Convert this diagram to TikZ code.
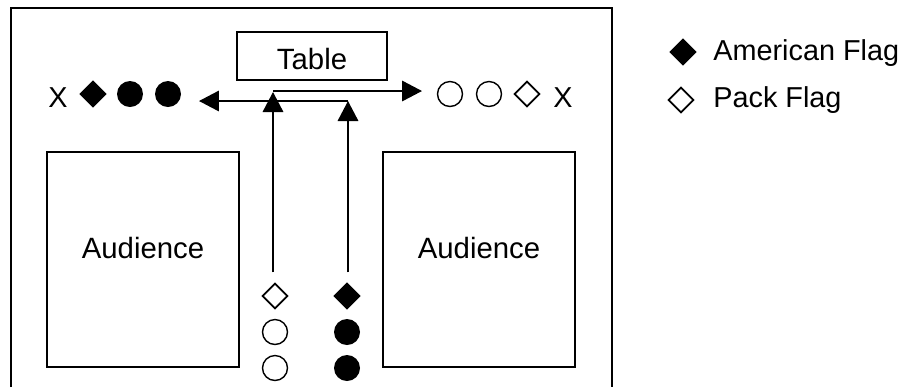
\documentclass[tikz,border=0pt]{standalone}
\usepackage{fontspec}
\setmainfont{Liberation Sans}
\usetikzlibrary{arrows.meta,shapes.geometric}
\tikzset{
  flagline/.style={line width=1pt,-{Triangle[length=0.4cm,width=0.41cm]}},
  room/.style={draw,line width=1pt,inner sep=0pt,align=center,font=\fontsize{16.7}{20}\selectfont},
  txt/.style={inner sep=0pt,anchor=base west,font=\fontsize{16.4}{20}\selectfont},
  usdia/.style={diamond,fill=black,draw=black,line width=0.5pt,inner sep=0pt,minimum width=0.53cm,minimum height=0.53cm},
  packdia/.style={diamond,draw=black,line width=1pt,inner sep=0pt,minimum width=0.51cm,minimum height=0.51cm},
  usball/.style={circle,fill=black,inner sep=0pt,minimum size=0.52cm},
  packball/.style={circle,draw=black,line width=0.8pt,inner sep=0pt,minimum size=0.5cm}
}
\begin{document}
\begin{tikzpicture}[x=0.02cm,y=-0.02cm]
\useasboundingbox (0,0) rectangle (905,387);
\draw [line width=1pt] (11,387) -- (11,8) -- (612,8) -- (612,387); % room outline

\node [room,text width=3cm,text height=0.75cm,text depth=0.21cm] (table) at (312,56) {Table};
\node [room,text width=3.84cm,text height=2.12cm,text depth=2.18cm] (audleft) at (143,259.5) {Audience};
\node [room,text width=3.84cm,text height=2.12cm,text depth=2.18cm] (audright) at (479,259.5) {Audience};

% left row
\node [txt,anchor=base,font=\fontsize{16.4}{20}\selectfont] (xleft) at (58,107) {X};
\node [usdia] (usa) at (93,94) {};
\node [usball] (usb) at (130,94) {};
\node [usball] (usc) at (168,94) {};
% right row
\node [packball] (packa) at (450,94) {};
\node [packball] (packb) at (489,94) {};
\node [packdia] (packc) at (527,94) {};
\node [txt,anchor=base,font=\fontsize{16.4}{20}\selectfont] (xright) at (563,107) {X};
% columns at the bottom
\node [packdia] (packtop) at (275,296) {};
\node [packball] (packmid) at (275,332) {};
\node [packball] (packbot) at (275,368) {};
\node [usdia] (ustop) at (347,296) {};
\node [usball] (usmid) at (347,332) {};
\node [usball] (usbot) at (347,368) {};

\coordinate (packtip) at (273,92);
\coordinate (ustip) at (348,101);
\coordinate (righttip) at (422,91);
\coordinate (lefttip) at (199,101);

\draw [flagline,shorten <=0.2cm] (packtip |- packtop.north) -- (packtip);
\draw [flagline,shorten <=0.2cm] (ustip |- ustop.north) -- (ustip);
\draw [flagline] (packtip |- righttip) -- (righttip);
\draw [flagline] (ustip) -- (lefttip);

% legend
\node [usdia] (keyus) at (683,52) {};
\node [packdia] (keypack) at (681,100) {};
\node [txt] (keyustxt) at (713,60) {American Flag};
\node [txt] (keypacktxt) at (713,107) {Pack Flag};
\end{tikzpicture}
\end{document}
